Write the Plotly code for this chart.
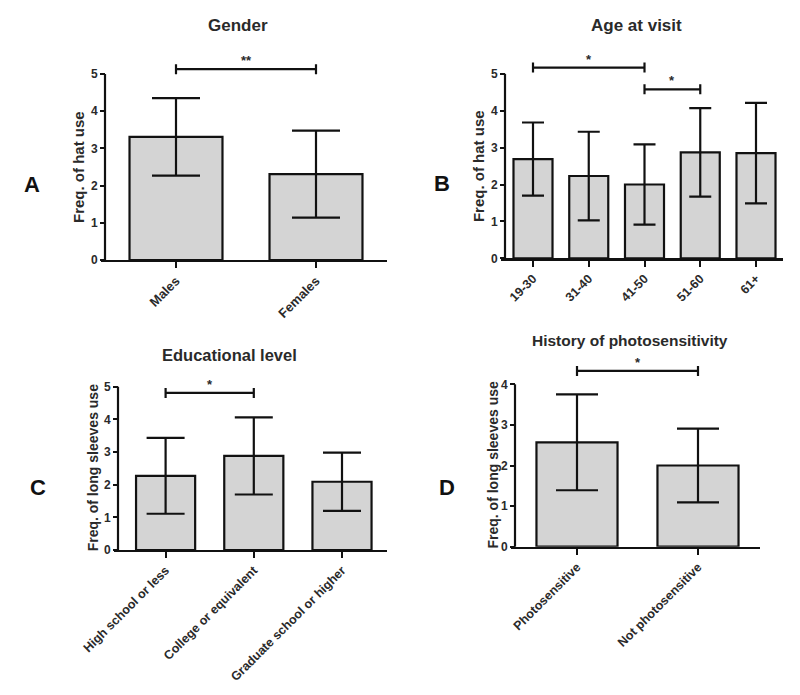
import plotly.graph_objects as go

W, H = 800, 695

# ---------------- data ----------------
gender_cats = ["Males", "Females"]
gender_mean = [3.31, 2.31]
gender_sd = [1.04, 1.17]
gender_sig = [(0, 1, 5.13, "**")]

age_cats = ["19-30", "31-40", "41-50", "51-60", "61+"]
age_mean = [2.69, 2.23, 2.00, 2.87, 2.85]
age_sd = [0.99, 1.20, 1.09, 1.20, 1.36]
age_sig = [(0, 2, 5.17, "*"), (2, 3, 4.58, "*")]

edu_cats = ["High school or less", "College or equivalent", "Graduate school or higher"]
edu_mean = [2.27, 2.88, 2.09]
edu_sd = [1.16, 1.18, 0.89]
edu_sig = [(0, 1, 4.81, "*")]

photo_cats = ["Photosensitive", "Not photosensitive"]
photo_mean = [2.57, 2.00]
photo_sd = [1.18, 0.91]
photo_sig = [(0, 1, 4.33, "*")]

panels = [
    dict(letter="A", cats=gender_cats, mean=gender_mean, sd=gender_sd, sig=gender_sig,
         title="Gender", ytitle="Freq. of hat use", ymax=5),
    dict(letter="B", cats=age_cats, mean=age_mean, sd=age_sd, sig=age_sig,
         title="Age at visit", ytitle="Freq. of hat use", ymax=5),
    dict(letter="C", cats=edu_cats, mean=edu_mean, sd=edu_sd, sig=edu_sig,
         title="Educational level", ytitle="Freq. of long sleeves use", ymax=5),
    dict(letter="D", cats=photo_cats, mean=photo_mean, sd=photo_sd, sig=photo_sig,
         title="History of photosensitivity", ytitle="Freq. of long sleeves use", ymax=4),
]

# ---------------- layout geometry (pixels) ----------------
geom = {
    "A": dict(axis_px=105, xl=101, xr=387, c0=176, ux=140.0, y0=260, uy=37.2, ytop=5.6,
              bw=0.664, cap=24, tpos=(238, 25), tsize=17, lpos=(32, 184), ytx=78, ytsize=15,
              xtsize=13),
    "B": dict(axis_px=505, xl=501, xr=783, c0=533, ux=55.75, y0=258.3, uy=36.9, ytop=5.6,
              bw=0.70, cap=11, tpos=(636, 25), tsize=17, lpos=(442, 183), ytx=478, ytsize=15,
              xtsize=12.5),
    "C": dict(axis_px=118, xl=114, xr=387, c0=165.6, ux=88.2, y0=550, uy=32.66, ytop=5.3,
              bw=0.67, cap=19, tpos=(230, 355), tsize=16.5, lpos=(38, 487), ytx=93, ytsize=14,
              xtsize=12.5),
    "D": dict(axis_px=515, xl=511, xr=760, c0=577, ux=121.0, y0=546.7, uy=40.6, ytop=4.7,
              bw=0.67, cap=21, tpos=(630, 340), tsize=15.5, lpos=(447, 487), ytx=492, ytsize=14,
              xtsize=12.5),
}

FONT = "Liberation Sans, Arial, sans-serif"
TXT = "#2a2a2a"

fig = go.Figure()
annotations = []
shapes = []
layout = {}

def px_x(p):
    return p / W

def px_y(p):
    return 1 - p / H

for i, p in enumerate(panels):
    g = geom[p["letter"]]
    n = i + 1
    xa = "x" if n == 1 else f"x{n}"
    ya = "y" if n == 1 else f"y{n}"
    idx = list(range(len(p["cats"])))

    fig.add_trace(go.Bar(
        x=idx, y=p["mean"], width=g["bw"], xaxis=xa, yaxis=ya,
        marker=dict(color="#d4d4d4", line=dict(color="#111111", width=2.2)),
        error_y=dict(type="data", array=p["sd"], visible=True, color="#111111",
                     thickness=2.2, width=g["cap"]),
        hoverinfo="skip",
    ))

    c = 5.0 / g["uy"]
    for (a, b, yv, star) in p["sig"]:
        fig.add_trace(go.Scatter(
            x=[a, a, a, b, b, b], y=[yv - c, yv + c, yv, yv, yv + c, yv - c],
            mode="lines", line=dict(color="#111111", width=2.2),
            xaxis=xa, yaxis=ya, hoverinfo="skip",
        ))
        annotations.append(dict(
            x=(a + b) / 2, y=yv, xref=xa, yref=ya, text=star, showarrow=False,
            yanchor="bottom", yshift=-1,
            font=dict(family=FONT, size=13, color=TXT, weight="bold"),
        ))

    xr0 = (g["xl"] - g["c0"]) / g["ux"]
    xr1 = (g["xr"] - g["c0"]) / g["ux"]
    ydom0 = px_y(g["y0"])
    ydom1 = px_y(g["y0"] - g["ytop"] * g["uy"])

    layout["xaxis" if n == 1 else f"xaxis{n}"] = dict(
        domain=[px_x(g["xl"]), px_x(g["xr"])], range=[xr0, xr1],
        tickmode="array", tickvals=idx, ticktext=p["cats"], tickangle=-45,
        ticks="outside", ticklen=6, tickwidth=2, tickcolor="#111111",
        showline=True, linewidth=2.2, linecolor="#111111", automargin=False,
        showgrid=False, zeroline=False, anchor=ya, fixedrange=True,
        tickfont=dict(family=FONT, size=g["xtsize"], color=TXT, weight="bold"),
    )
    layout["yaxis" if n == 1 else f"yaxis{n}"] = dict(
        domain=[ydom0, ydom1], range=[0, g["ytop"]],
        tickmode="array", tickvals=list(range(p["ymax"] + 1)),
        ticks="outside", ticklen=5, tickwidth=2, tickcolor="#111111",
        showline=False, showgrid=False, zeroline=False, automargin=False,
        anchor="free", position=px_x(g["axis_px"]), fixedrange=True,
        tickfont=dict(family=FONT, size=12, color=TXT, weight="bold"),
    )

    # y axis line from 0 to the top tick only
    shapes.append(dict(
        type="line", xref="paper", yref="paper",
        x0=px_x(g["axis_px"]), x1=px_x(g["axis_px"]),
        y0=ydom0, y1=px_y(g["y0"] - p["ymax"] * g["uy"]),
        line=dict(color="#111111", width=2.2),
    ))

    # panel title
    annotations.append(dict(
        x=px_x(g["tpos"][0]), y=px_y(g["tpos"][1]), xref="paper", yref="paper",
        text=p["title"], showarrow=False, xanchor="center", yanchor="middle",
        font=dict(family=FONT, size=g["tsize"], color=TXT, weight="bold"),
    ))
    # panel letter
    annotations.append(dict(
        x=px_x(g["lpos"][0]), y=px_y(g["lpos"][1]), xref="paper", yref="paper",
        text=p["letter"], showarrow=False, xanchor="center", yanchor="middle",
        font=dict(family=FONT, size=22, color="#111111", weight="bold"),
    ))
    # y-axis title
    annotations.append(dict(
        x=px_x(g["ytx"]), y=px_y((g["y0"] + g["y0"] - p["ymax"] * g["uy"]) / 2),
        xref="paper", yref="paper", text=p["ytitle"], showarrow=False, textangle=-90,
        xanchor="center", yanchor="middle",
        font=dict(family=FONT, size=g["ytsize"], color=TXT, weight="bold"),
    ))

fig.update_layout(
    template="none",
    width=W, height=H, margin=dict(l=0, r=0, t=0, b=0, autoexpand=False),
    paper_bgcolor="white", plot_bgcolor="white", showlegend=False,
    annotations=annotations, shapes=shapes, bargap=0,
    **layout,
)

fig.write_html(
    "out.html",
    config={"displayModeBar": False, "staticPlot": True},
    post_script="document.body.style.margin='0';document.body.style.overflow='hidden';",
)
